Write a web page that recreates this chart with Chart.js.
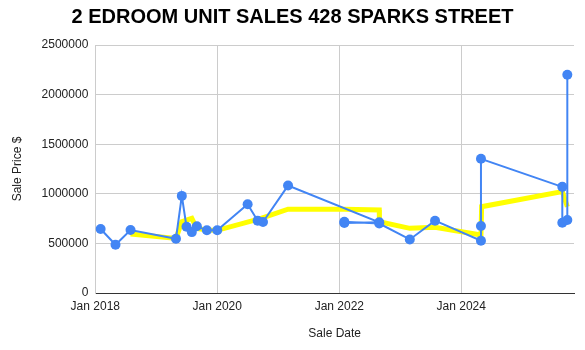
<!DOCTYPE html>
<html>
<head>
<meta charset="utf-8">
<script src="https://cdn.jsdelivr.net/npm/chart.js@4.4.1/dist/chart.umd.min.js"></script>
<style>
  html, body { margin: 0; padding: 0; background: #fff; }
  #wrap { width: 585px; height: 350px; }
</style>
</head>
<body>
<div id="wrap"><canvas id="chart"></canvas></div>
<script>
// sales, in the order they appear in the sheet
const saleDates = [
  '2018-02-02', '2018-05-02', '2018-07-31', '2019-04-29', '2019-06-03',
  '2019-07-01', '2019-08-02', '2019-09-01', '2019-10-31', '2020-01-01',
  '2020-07-01', '2020-08-30', '2020-10-01', '2021-02-28', '2022-08-28',
  '2022-01-31', '2022-01-31', '2022-08-28', '2023-02-27', '2023-07-28',
  '2024-04-28', '2024-04-28', '2024-04-28', '2025-08-28', '2025-08-28',
  '2025-09-27', '2025-09-27'
];
const salePrices = [
  645000, 486000, 635000, 547000, 979000,
  668000, 614000, 672000, 632000, 632000,
  895000, 729000, 716000, 1083000, 712000,
  705000, 718000, 700000, 540000, 729000,
  527000, 675000, 1353000, 1070000, 709000,
  736000, 2200000
];

// yellow trend line
const trendDates = [
  '2018-07-31', '2019-04-29', '2019-06-03', '2019-07-01', '2019-08-02',
  '2019-09-01', '2019-10-31', '2020-01-01', '2020-09-15', '2021-02-28',
  '2022-01-31', '2022-08-28', '2022-08-29', '2023-02-27', '2023-07-28',
  '2024-04-28', '2024-05-02', '2025-08-28', '2025-09-27'
];
const trendValues = [
  594000, 550000, 719000, 735000, 753000,
  650000, 635000, 632000, 750000, 845000,
  845000, 837000, 719000, 652000, 662000,
  584000, 870000, 1022000, 870000
];

const xTickYears = [2018, 2020, 2022, 2024];
const yTicks = [0, 500000, 1000000, 1500000, 2000000, 2500000];
const months = ['Jan', 'Feb', 'Mar', 'Apr', 'May', 'Jun', 'Jul', 'Aug', 'Sep', 'Oct', 'Nov', 'Dec'];

function toTime(s) {
  const p = s.split('-').map(Number);
  return Date.UTC(p[0], p[1] - 1, p[2]);
}

const salePoints = saleDates.map((d, i) => ({ x: toTime(d), y: salePrices[i] }));
const trendPoints = trendDates.map((d, i) => ({ x: toTime(d), y: trendValues[i] }));

const font = { family: 'Liberation Sans, Arial, sans-serif', size: 12 };

new Chart(document.getElementById('chart'), {
  type: 'line',
  data: {
    datasets: [
      {
        label: 'Sale Price $',
        data: salePoints,
        borderColor: '#4285F4',
        backgroundColor: '#4285F4',
        borderWidth: 2,
        pointRadius: 5,
        pointBorderWidth: 0,
        tension: 0,
        order: 0
      },
      {
        label: 'Trend',
        data: trendPoints,
        borderColor: '#FFFF00',
        borderWidth: 5,
        pointRadius: 0,
        tension: 0,
        order: 1
      }
    ]
  },
  options: {
    responsive: true,
    maintainAspectRatio: false,
    animation: false,
    layout: { padding: { left: 11, right: 11, top: 0, bottom: 0 } },
    plugins: {
      legend: { display: false },
      tooltip: { enabled: false },
      title: {
        display: true,
        text: '2 EDROOM UNIT SALES 428 SPARKS STREET',
        color: '#000',
        font: { family: font.family, size: 20, weight: 'bold' },
        padding: { top: 5, bottom: 16 }
      }
    },
    scales: {
      x: {
        type: 'linear',
        min: Date.UTC(2018, 0, 1),
        max: Date.UTC(2025, 10, 6),
        afterBuildTicks: axis => {
          axis.ticks = xTickYears.map(y => ({ value: Date.UTC(y, 0, 1) }));
        },
        afterFit: scale => { scale.height = 57; },
        ticks: {
          color: '#222',
          font: font,
          padding: 6,
          maxRotation: 0,
          autoSkip: false,
          callback: v => {
            const d = new Date(v);
            return months[d.getUTCMonth()] + ' ' + d.getUTCFullYear();
          }
        },
        grid: { color: '#cccccc', drawTicks: false },
        border: { color: '#333', width: 1 },
        title: {
          display: true,
          text: 'Sale Date',
          color: '#222',
          font: font,
          padding: { top: 0, bottom: 9 }
        }
      },
      y: {
        min: 0,
        max: 2500000,
        afterBuildTicks: axis => {
          axis.ticks = yTicks.map(v => ({ value: v }));
        },
        afterFit: scale => { scale.width = 84.3; },
        ticks: {
          color: '#222',
          font: font,
          padding: 7,
          callback: v => String(v)
        },
        grid: { color: '#cccccc', drawTicks: false },
        border: { color: '#cccccc' },
        title: {
          display: true,
          text: 'Sale Price $',
          color: '#222',
          font: font,
          padding: { top: -1, bottom: 0 }
        }
      }
    }
  }
});
</script>
</body>
</html>
